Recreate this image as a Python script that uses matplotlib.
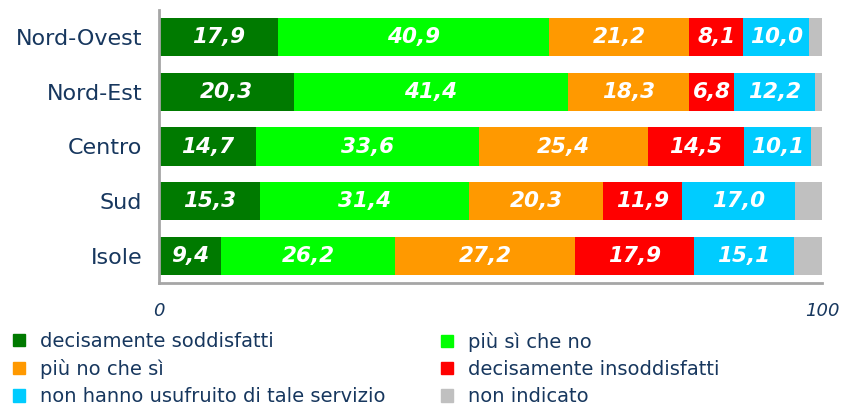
import numpy as np
import matplotlib.pyplot as plt
from matplotlib.patches import Patch

regions = ['Nord-Ovest', 'Nord-Est', 'Centro', 'Sud', 'Isole']
series = ['decisamente soddisfatti', 'più sì che no', 'più no che sì',
          'decisamente insoddisfatti', 'non hanno usufruito di tale servizio',
          'non indicato']
dec_sodd = [17.9, 20.3, 14.7, 15.3, 9.4]
piu_si = [40.9, 41.4, 33.6, 31.4, 26.2]
piu_no = [21.2, 18.3, 25.4, 20.3, 27.2]
dec_insodd = [8.1, 6.8, 14.5, 11.9, 17.9]
non_usuf = [10.0, 12.2, 10.1, 17.0, 15.1]
non_ind = [1.9, 1.0, 1.7, 4.1, 4.2]
colors = ['#007A00', '#00FF00', '#FF9900', '#FF0000', '#00CCFF', '#C0C0C0']

txt_col = '#17375E'

fig = plt.figure(figsize=(8.41, 4.07), dpi=100)
ax = fig.add_axes([159 / 841, 1 - 283 / 407, (822 - 159) / 841, 273 / 407])

data = [dec_sodd, piu_si, piu_no, dec_insodd, non_usuf, non_ind]
y = np.arange(len(regions))
left = np.zeros(len(regions))
for i, vals in enumerate(data):
    vals = np.array(vals)
    ax.barh(y, vals, left=left, height=0.7, color=colors[i], label=series[i])
    if i < 5:
        for yy, l, v in zip(y, left, vals):
            ax.text(l + v / 2, yy, f'{v:.1f}'.replace('.', ','), ha='center', va='center',
                    color='white', fontsize=15.5, fontweight='bold', fontstyle='italic')
    left += vals

ax.set_xlim(0, 100)
ax.set_ylim(4.5, -0.5)
ax.set_yticks(y)
ax.set_yticklabels(regions, fontsize=16, color=txt_col)
ax.set_xticks([0, 100])
ax.set_xticklabels(['0', '100'], fontsize=13, color=txt_col, fontstyle='italic')
ax.tick_params(axis='both', length=0)
ax.tick_params(axis='x', pad=14)
ax.tick_params(axis='y', pad=12)
for s in ['top', 'right']:
    ax.spines[s].set_visible(False)
for s in ['left', 'bottom']:
    ax.spines[s].set_color('#A6A6A6')
    ax.spines[s].set_linewidth(2)

# legend in two columns, placed separately
handles = [Patch(color=c) for c in colors]
for col, (x0, idx) in enumerate([(13, [0, 2, 4]), (441, [1, 3, 5])]):
    leg = fig.legend([handles[k] for k in idx], [series[k] for k in idx],
                     loc='upper left', bbox_to_anchor=(x0 / 841, 1 - 332 / 407),
                     frameon=False, borderpad=0, borderaxespad=0,
                     handlelength=0.6, handleheight=0.6, handletextpad=0.8,
                     labelspacing=0.42, fontsize=14)
    for t in leg.get_texts():
        t.set_color(txt_col)

fig.savefig('out.png', dpi=100)
